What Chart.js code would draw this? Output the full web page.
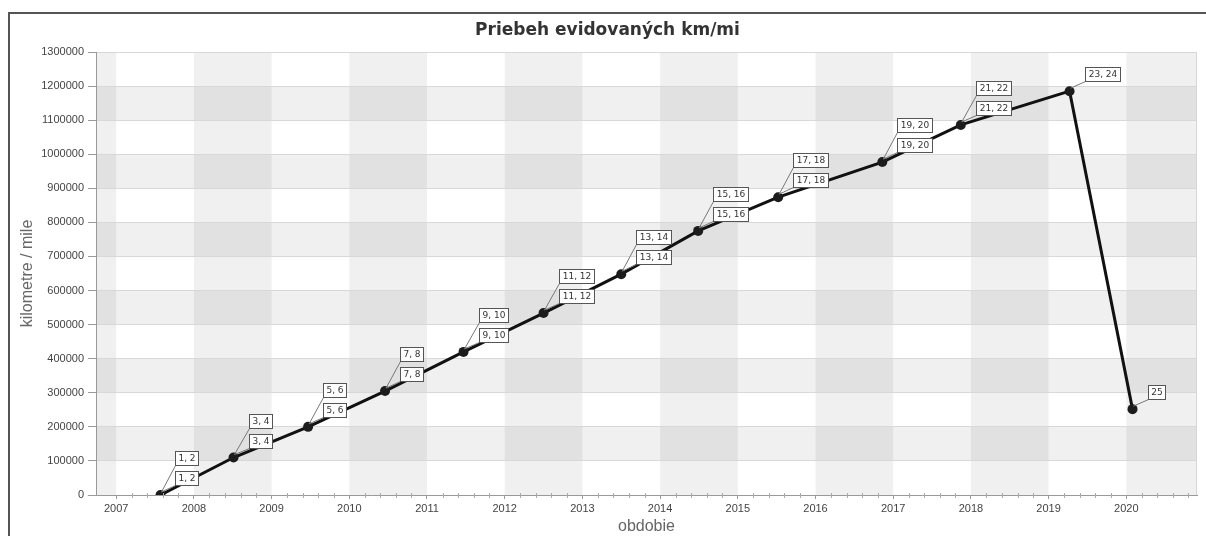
<!DOCTYPE html>
<html><head><meta charset="utf-8">
<script src="https://cdn.jsdelivr.net/npm/chart.js@4.4.1/dist/chart.umd.min.js"></script>
<style>
html,body{margin:0;padding:0;background:#fff;overflow:hidden}
#frame{position:absolute;left:8px;top:12px;width:1198px;height:524px;border-top:2px solid #555;border-left:2px solid #555;box-sizing:border-box}
#wrap{position:absolute;left:0;top:0;width:1206px;height:536px}
</style></head><body>
<div id="frame"></div>
<div id="wrap"><canvas id="c" width="1206" height="536"></canvas></div>
<script>
// ---- data ----
const yearTicks = [2007,2008,2009,2010,2011,2012,2013,2014,2015,2016,2017,2018,2019,2020];
const kmTicks = [0,100000,200000,300000,400000,500000,600000,700000,800000,900000,1000000,1100000,1200000,1300000];
const periods = [2007.57,2008.51,2009.47,2010.46,2011.47,2012.50,2013.50,2014.49,2015.52,2016.86,2017.87,2019.27,2020.08];
const kilometres = [0,110000,200000,305000,420000,534000,648000,775000,874000,977000,1086000,1185000,252000];
const labelsUpper = ['1, 2','3, 4','5, 6','7, 8','9, 10','11, 12','13, 14','15, 16','17, 18','19, 20','21, 22','',''];
const labelsLower = ['1, 2','3, 4','5, 6','7, 8','9, 10','11, 12','13, 14','15, 16','17, 18','19, 20','21, 22','23, 24','25'];
const xMin = 2006.74, xMax = 2020.91;

const bandsPlugin = {
  id: 'bands',
  beforeDraw(chart) {
    const {ctx, chartArea: a, scales: {x, y}} = chart;
    ctx.save();
    ctx.fillStyle = '#ffffff';
    ctx.fillRect(a.left, a.top, a.right - a.left, a.bottom - a.top);
    ctx.fillStyle = 'rgba(0,0,0,0.058)';
    const xb = [x.min, ...yearTicks.filter(v => v > x.min && v < x.max), x.max];
    for (let i = 0; i < xb.length - 1; i++) {
      if (Math.floor(xb[i]) % 2 === 0) {
        const p0 = x.getPixelForValue(xb[i]), p1 = x.getPixelForValue(xb[i + 1]);
        ctx.fillRect(p0, a.top, p1 - p0, a.bottom - a.top);
      }
    }
    for (let i = 0; i < kmTicks.length - 1; i++) {
      if (i % 2 === 1) {
        const p0 = y.getPixelForValue(kmTicks[i + 1]), p1 = y.getPixelForValue(kmTicks[i]);
        ctx.fillRect(a.left, p0, a.right - a.left, p1 - p0);
      }
    }
    ctx.restore();
  },
  afterDraw(chart) {
    const {ctx, chartArea: a, scales: {x}} = chart;
    ctx.save();
    ctx.strokeStyle = '#aaa';
    ctx.lineWidth = 1;
    ctx.beginPath();
    for (let v = Math.ceil(x.min); v < x.max; v++) {
      for (let k = 1; k < 5; k++) {
        const val = v + k * 0.2;
        if (val >= x.max) break;
        const px = Math.round(x.getPixelForValue(val)) + 0.5;
        ctx.moveTo(px, a.bottom - 2); ctx.lineTo(px, a.bottom + 3);
      }
    }
    {
      const px = Math.round(x.getPixelForValue(x.min + 0.06)) + 0.5;
    }
    ctx.stroke();
    ctx.strokeStyle = '#d6d6d6';
    ctx.beginPath();
    ctx.moveTo(Math.round(a.right) - 0.5, a.top); ctx.lineTo(Math.round(a.right) - 0.5, a.bottom);
    ctx.stroke();
    ctx.restore();
  }
};

const labelPlugin = {
  id: 'pointLabels',
  afterDatasetsDraw(chart) {
    const ctx = chart.ctx;
    const meta = chart.getDatasetMeta(0);
    ctx.save();
    ctx.font = '9px "DejaVu Sans"';
    ctx.textBaseline = 'middle';
    ctx.textAlign = 'center';
    meta.data.forEach((pt, i) => {
      const boxes = [];
      if (labelsUpper[i]) boxes.push({text: labelsUpper[i], top: pt.y - 44});
      if (labelsLower[i]) boxes.push({text: labelsLower[i], top: pt.y - 24});
      const left = Math.round(pt.x + 15) + 0.5;
      ctx.strokeStyle = '#777';
      ctx.lineWidth = 1;
      boxes.forEach(b => {
        ctx.beginPath();
        ctx.moveTo(pt.x + 1, pt.y - 3);
        ctx.lineTo(left, Math.round(b.top + 14) + 0.5);
        ctx.stroke();
      });
      boxes.forEach(b => {
        const w = Math.round(ctx.measureText(b.text).width + 6);
        const t = Math.round(b.top) + 0.5;
        ctx.fillStyle = '#ffffff';
        ctx.fillRect(left, t, w, 14);
        ctx.strokeStyle = '#555';
        ctx.strokeRect(left, t, w, 14);
        ctx.fillStyle = '#333';
        ctx.fillText(b.text, left + w / 2, t + 7.5);
      });
    });
    ctx.restore();
  }
};

new Chart(document.getElementById('c'), {
  type: 'line',
  data: {
    datasets: [{
      data: periods.map((p, i) => ({x: p, y: kilometres[i]})),
      borderColor: '#111',
      borderWidth: 3,
      pointRadius: 5,
      pointHoverRadius: 5,
      pointBackgroundColor: '#1c1c1c',
      pointBorderWidth: 0,
      tension: 0,
      fill: false
    }]
  },
  plugins: [bandsPlugin, labelPlugin],
  options: {
    responsive: false,
    animation: false,
    events: [],
    layout: {padding: {left: 18, right: 9, top: 0, bottom: 0}},
    plugins: {
      legend: {display: false},
      tooltip: {enabled: false},
      title: {
        display: true,
        text: 'Priebeh evidovaných km/mi',
        color: '#333',
        font: {family: '"DejaVu Sans"', size: 17, weight: 'bold'},
        padding: {top: 20, bottom: 11.6}
      }
    },
    scales: {
      x: {
        type: 'linear',
        min: xMin,
        max: xMax,
        afterBuildTicks(s) { s.ticks = yearTicks.map(v => ({value: v})); },
        afterFit(s) { s.height = 41; },
        ticks: {
          callback: v => String(v),
          color: '#444',
          font: {family: '"Liberation Sans"', size: 11},
          padding: 3,
          maxRotation: 0,
          autoSkip: false
        },
        grid: {drawOnChartArea: false, tickLength: 4, tickColor: '#999'},
        border: {color: '#999'},
        title: {display: true, text: 'obdobie', color: '#666', font: {family: '"Liberation Sans"', size: 16}, padding: {top: 0, bottom: 0}}
      },
      y: {
        min: 0,
        max: 1300000,
        afterBuildTicks(s) { s.ticks = kmTicks.map(v => ({value: v})); },
        afterFit(s) { s.width = 78; },
        ticks: {
          callback: v => String(v),
          color: '#444',
          font: {family: '"Liberation Sans"', size: 11},
          padding: 4
        },
        grid: {color: '#d8d8d8', tickLength: 8, tickColor: '#999'},
        border: {color: '#999'},
        title: {display: true, text: 'kilometre / mile', color: '#666', font: {family: '"Liberation Sans"', size: 16}, padding: {top: 0, bottom: 0}}
      }
    }
  }
});
</script>
</body></html>
